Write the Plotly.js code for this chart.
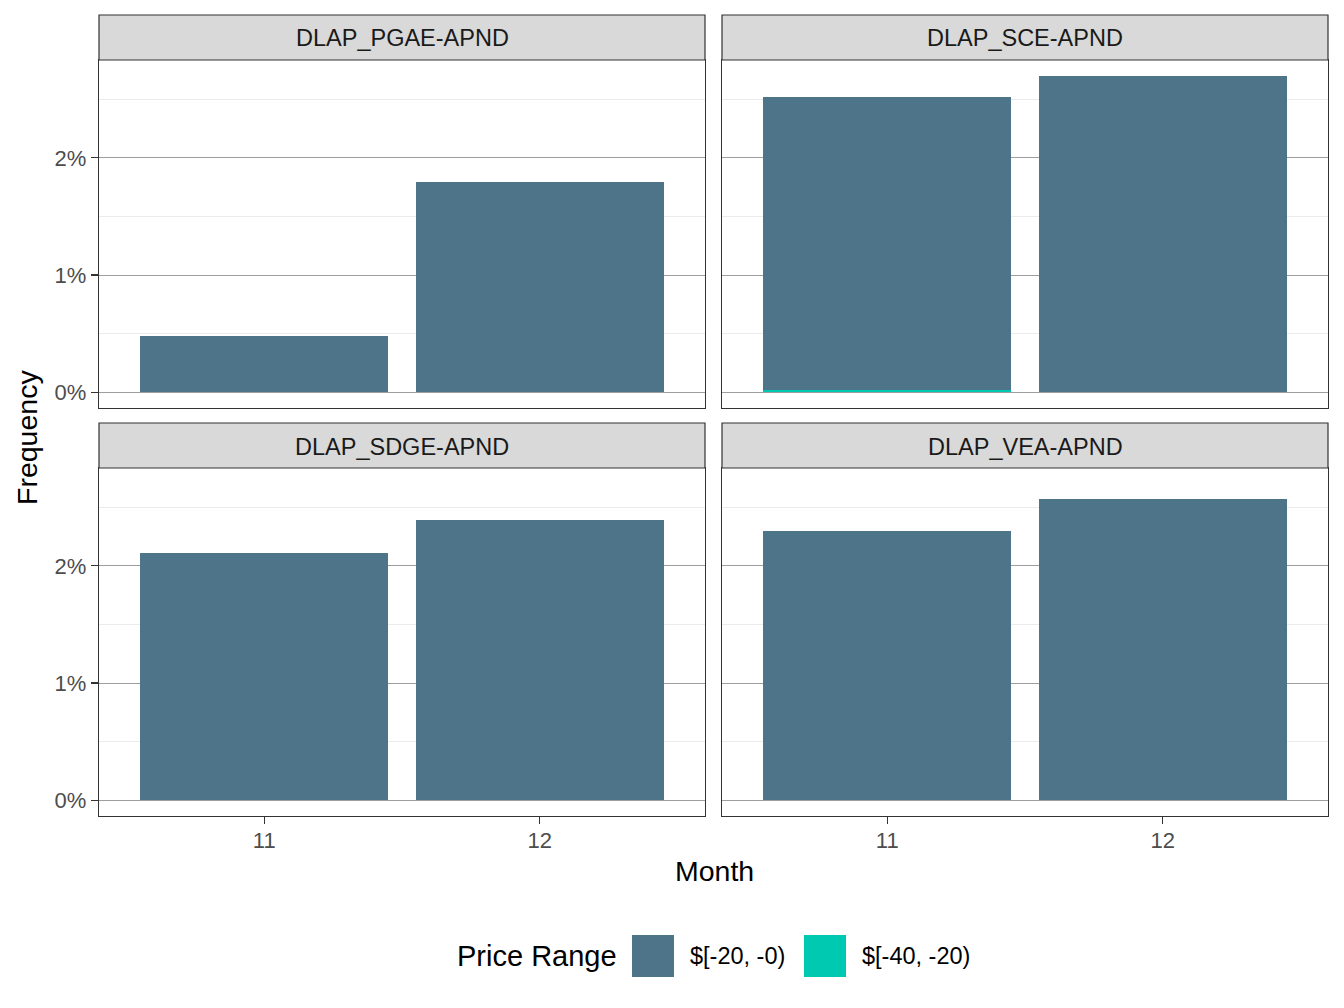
<!DOCTYPE html>
<html>
<head>
<meta charset="utf-8">
<script src="https://cdn.plot.ly/plotly-3.0.1.min.js"></script>
<style>
  html, body { margin: 0; padding: 0; background: #fff; }
  #myDiv { width: 1344px; height: 1008px; }
</style>
</head>
<body>
<div id="myDiv"></div>
<script>
// data, values in percent
var months = ['11', '12'];
var nodes = ['DLAP_PGAE-APND', 'DLAP_SCE-APND', 'DLAP_SDGE-APND', 'DLAP_VEA-APND'];
var ranges = ['$[-20, -0)', '$[-40, -20)'];
var colors = ['#4e7489', '#00c9b1'];
var yTicks = [0, 1, 2];
var yTickText = ['0%', '1%', '2%'];

var pgae20 = [0.48, 1.79];
var sce20 = [2.505, 2.70];
var sdge20 = [2.11, 2.39];
var vea20 = [2.30, 2.57];

var pgae40 = [0, 0];
var sce40 = [0.017, 0];
var sdge40 = [0, 0];
var vea40 = [0, 0];

var vals20 = [pgae20, sce20, sdge20, vea20];
var vals40 = [pgae40, sce40, sdge40, vea40];

var W = 1344, H = 1008;
var font = 'Liberation Sans, Arial, sans-serif';

// panel boxes in pixels
var colX = [[99, 705], [722, 1328]];
var rowY = [[60, 408], [468, 816]];
var stripH = 45;

var data = [];
var layout = {
  width: W, height: H,
  margin: {l: 0, r: 0, t: 0, b: 0},
  paper_bgcolor: '#fff',
  plot_bgcolor: '#fff',
  barmode: 'stack',
  showlegend: false,
  font: {family: font, color: '#1a1a1a'},
  shapes: [],
  annotations: []
};

var ymax = 2.70;
var yr = [-0.05 * ymax, ymax * 1.05];

nodes.forEach(function (node, i) {
  var col = i % 2, row = Math.floor(i / 2);
  var sfx = i === 0 ? '' : String(i + 1);
  var xa = 'x' + sfx, ya = 'y' + sfx;

  data.push({
    type: 'bar', x: months, y: vals40[i], name: ranges[1],
    xaxis: xa, yaxis: ya, width: 0.9,
    marker: {color: colors[1], line: {width: 0}},
    hoverinfo: 'skip'
  });
  data.push({
    type: 'bar', x: months, y: vals20[i], name: ranges[0],
    xaxis: xa, yaxis: ya, width: 0.9,
    marker: {color: colors[0], line: {width: 0}},
    hoverinfo: 'skip'
  });

  var x0 = colX[col][0] / W, x1 = colX[col][1] / W;
  var y0 = 1 - rowY[row][1] / H, y1 = 1 - rowY[row][0] / H;

  layout['xaxis' + sfx] = {
    domain: [x0, x1], anchor: ya, type: 'category',
    range: [-0.6, 1.6], fixedrange: true,
    showgrid: false, zeroline: false,
    showline: true, mirror: true, linecolor: '#333333', linewidth: 1.2,
    ticks: row === 1 ? 'outside' : '', ticklen: 7, tickcolor: '#333333', tickwidth: 1.2,
    ticklabelstandoff: -3,
    showticklabels: row === 1,
    tickfont: {family: font, size: 22, color: '#4d4d4d'}
  };
  layout['yaxis' + sfx] = {
    domain: [y0, y1], anchor: xa,
    range: yr, fixedrange: true,
    tickmode: 'array', tickvals: yTicks, ticktext: yTickText,
    showgrid: true, gridcolor: '#9e9e9e', gridwidth: 1,
    minor: {tickvals: [0.5, 1.5, 2.5], showgrid: true, gridcolor: '#ebebeb', gridwidth: 1, ticks: ''},
    zeroline: false,
    showline: true, mirror: true, linecolor: '#333333', linewidth: 1.2,
    ticks: col === 0 ? 'outside' : '', ticklen: 7, tickcolor: '#333333', tickwidth: 1.2,
    showticklabels: col === 0,
    tickfont: {family: font, size: 22, color: '#4d4d4d'}
  };

  // facet strip
  var sTop = rowY[row][0] - stripH;
  layout.shapes.push({
    type: 'rect', xref: 'paper', yref: 'paper',
    x0: x0, x1: x1, y0: y1, y1: 1 - sTop / H,
    fillcolor: '#d9d9d9', line: {color: '#333333', width: 1.2}, layer: 'above'
  });
  layout.annotations.push({
    xref: 'paper', yref: 'paper', x: (x0 + x1) / 2, y: 1 - (sTop + stripH / 2 + 1) / H,
    text: node, showarrow: false, xanchor: 'center', yanchor: 'middle',
    font: {family: font, size: 23.5, color: '#1a1a1a'}
  });
});

// axis titles
layout.annotations.push({
  xref: 'paper', yref: 'paper', x: 714 / W, y: 1 - 871 / H,
  text: 'Month', showarrow: false, xanchor: 'center', yanchor: 'middle',
  font: {family: font, size: 28.5, color: '#000'}
});
layout.annotations.push({
  xref: 'paper', yref: 'paper', x: 27 / W, y: 1 - 438 / H,
  text: 'Frequency', showarrow: false, textangle: -90, xanchor: 'center', yanchor: 'middle',
  font: {family: font, size: 28.5, color: '#000'}
});

// legend drawn by hand to get the big ggplot keys
var legY = 956;
layout.annotations.push({
  xref: 'paper', yref: 'paper', x: 455 / W, y: 1 - legY / H,
  text: 'Price Range', showarrow: false, xanchor: 'left', yanchor: 'middle',
  font: {family: font, size: 29, color: '#000'}
});
var keyX = [632, 804];
ranges.forEach(function (r, k) {
  layout.shapes.push({
    type: 'rect', xref: 'paper', yref: 'paper',
    x0: keyX[k] / W, x1: (keyX[k] + 42) / W,
    y0: 1 - (legY + 21) / H, y1: 1 - (legY - 21) / H,
    fillcolor: colors[k], line: {width: 0}
  });
  layout.annotations.push({
    xref: 'paper', yref: 'paper', x: (keyX[k] + 56) / W, y: 1 - legY / H,
    text: r, showarrow: false, xanchor: 'left', yanchor: 'middle',
    font: {family: font, size: 23.5, color: '#000'}
  });
});

Plotly.newPlot('myDiv', data, layout, {displayModeBar: false, staticPlot: true});
</script>
</body>
</html>
